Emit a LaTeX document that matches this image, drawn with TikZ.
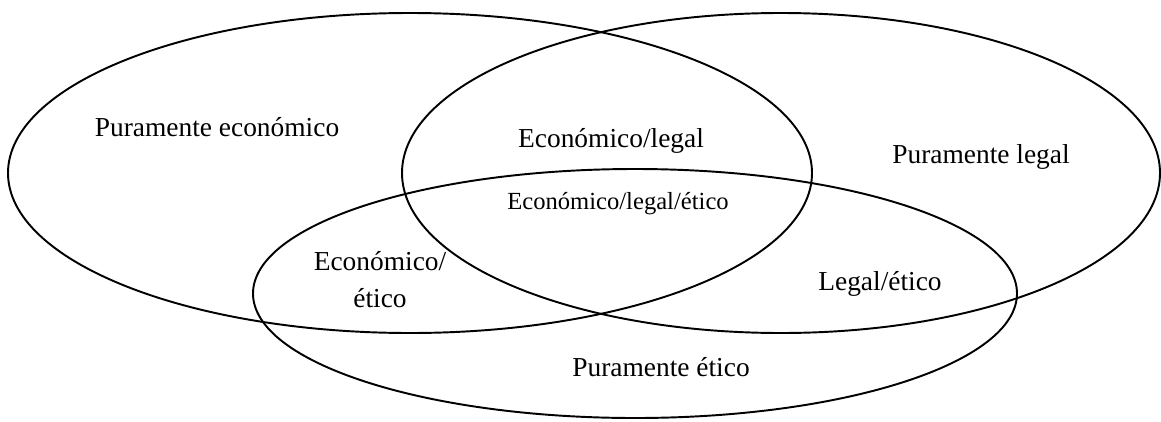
\documentclass[tikz,border=0pt]{standalone}
\usepackage{fontspec}
\setmainfont{Liberation Serif}
\usetikzlibrary{shapes.geometric,positioning}
\tikzset
{
    setring/.style = {ellipse, draw=black, line width=1.1pt, inner sep=0pt},
    setlabel/.style = {font=\fontsize{15.6}{21}\selectfont, anchor=base, inner sep=0pt, align=center}
}

\begin{document}
\begin{tikzpicture}
\useasboundingbox (0,0) rectangle (23.22,8.42);
% the three sets
\node [setring, minimum width=16.08cm, minimum height=6.4cm] (econ) at (8.20,4.96) {};
\node [setring, minimum width=15.16cm, minimum height=6.4cm] (legal) at (15.62,4.96) {};
\node [setring, minimum width=15.28cm, minimum height=4.98cm] (etico) at (12.70,2.55) {};
% region labels
\node [setlabel] (pecon) at (4.34,5.70) {Puramente económico};
\node [setlabel] (econlegal) at (12.22,5.48) {Económico/legal};
\node [setlabel, font=\fontsize{14}{17}\selectfont] (todos) at (12.36,4.24) {Económico/legal/ético};
\node [setlabel, anchor=center] (econetico) at (7.60,2.82) {Económico/\\ético};
\node [setlabel] (plegal) at (19.62,5.16) {Puramente legal};
\node [setlabel] (legaletico) at (17.60,2.62) {Legal/ético};
\node [setlabel] (petico) at (13.22,0.90) {Puramente ético};
\end{tikzpicture}
\end{document}
